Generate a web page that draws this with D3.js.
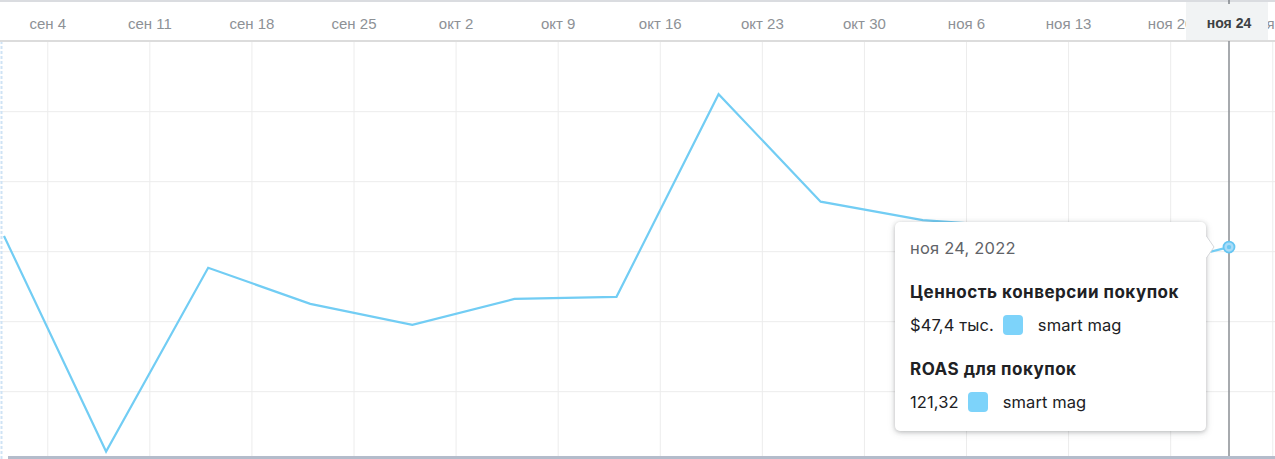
<!DOCTYPE html>
<html>
<head>
<meta charset="utf-8">
<script src="https://cdn.jsdelivr.net/npm/d3@7"></script>
<style>
  html, body { margin: 0; padding: 0; background: #fff; }
  body { width: 1275px; height: 459px; overflow: hidden; position: relative; font-family: "Liberation Sans", Arial, sans-serif; }
  #tip {
    position: absolute; background: #fff; border-radius: 5px;
    box-shadow: 0 1px 4px rgba(60,64,67,0.3), 0 2px 8px rgba(60,64,67,0.12);
    box-sizing: border-box; padding: 0 15px; color: #202124;
    font-family: Inter, Roboto, sans-serif;
  }
  #tip div { line-height: 20px; white-space: nowrap; }
  #tip .date { color: #5f6368; font-size: 16.5px; letter-spacing: 0.2px; margin-top: 16px; }
  #tip .metric { font-weight: 700; font-size: 17px; letter-spacing: 0.5px; margin-top: 24px; }
  #tip .row { font-size: 16.5px; letter-spacing: 0.1px; margin-top: 13px; display: flex; align-items: center; }
  #tip .sw { width: 20px; height: 20px; border-radius: 4px; background: #7dd3fa; margin: 0 15px 0 9px; }
</style>
</head>
<body>
<div id="chart"></div>
<script>
// weekly ROAS (line)
const dates = ["2022-09-01","2022-09-08","2022-09-15","2022-09-22","2022-09-29","2022-10-06",
  "2022-10-13","2022-10-20","2022-10-27","2022-11-03","2022-11-10","2022-11-17","2022-11-24"];
const roas = [124.5, 62.9, 115.4, 105.1, 99.1, 106.5, 107.1, 165.0, 134.3, 129.0, 127.0, 114.0, 121.32];
const yTicks = [80, 100, 120, 140, 160, 180];
const seriesName = "smart mag";
const tipConvValue = "$47,4 тыс.";
const tipRoas = "121,32";

const width = 1275, height = 459;
const parse = d3.timeParse("%Y-%m-%d");
const data = dates.map((d, i) => ({ date: parse(d), v: roas[i] }));

const ru = d3.timeFormatLocale({
  dateTime: "%A, %e %B %Y г. %X", date: "%d.%m.%Y", time: "%H:%M:%S", periods: ["AM", "PM"],
  days: ["воскресенье","понедельник","вторник","среда","четверг","пятница","суббота"],
  shortDays: ["вс","пн","вт","ср","чт","пт","сб"],
  months: ["января","февраля","марта","апреля","мая","июня","июля","августа","сентября","октября","ноября","декабря"],
  shortMonths: ["янв","фев","мар","апр","май","июн","июл","авг","сен","окт","ноя","дек"]
});
const fmtTick = ru.format("%b %-d");
const fmtTip = ru.format("%b %-d, %Y");

const x = d3.scaleTime()
  .domain([data[0].date, data[data.length - 1].date])
  .range([4, 1229]);
const y = d3.scaleLinear().domain([60, 180]).range([461.7, 41.7]);

const svg = d3.select("#chart").append("svg")
  .attr("width", width).attr("height", height)
  .style("display", "block");

const headerH = 41;
const sundays = d3.timeSunday.range(d3.timeDay.offset(x.domain()[0], -1), x.invert(width + 10));

// grid
svg.append("g").selectAll("line").data(sundays).join("line")
  .attr("x1", d => x(d)).attr("x2", d => x(d))
  .attr("y1", headerH).attr("y2", height)
  .attr("stroke", "#ececec").attr("stroke-width", 1);
svg.append("g").selectAll("line").data(yTicks.slice(0, -1)).join("line")
  .attr("x1", 0).attr("x2", width)
  .attr("y1", d => y(d)).attr("y2", d => y(d))
  .attr("stroke", "#ececec").attr("stroke-width", 1);

// left dashed edge
svg.append("line").attr("x1", 1.5).attr("x2", 1.5).attr("y1", headerH).attr("y2", height)
  .attr("stroke", "#cfe3f5").attr("stroke-width", 2).attr("stroke-dasharray", "3,2");

// header
svg.append("rect").attr("x", 0).attr("y", 0).attr("width", width).attr("height", headerH).attr("fill", "#fff");
svg.append("line").attr("x1", 0).attr("x2", width).attr("y1", 1).attr("y2", 1)
  .attr("stroke", "#dadce0").attr("stroke-width", 2);
svg.append("line").attr("x1", 0).attr("x2", width).attr("y1", headerH).attr("y2", headerH)
  .attr("stroke", "#dcdcdc").attr("stroke-width", 2);

svg.append("g").selectAll("text").data(sundays).join("text")
  .attr("x", d => x(d)).attr("y", 29)
  .attr("text-anchor", "middle")
  .attr("font-size", 15).attr("fill", "#8d9196")
  .text(d => fmtTick(d));

const last = data[data.length - 1];
const lx = x(last.date);
svg.append("rect").attr("x", lx - 43).attr("y", 2).attr("width", 82).attr("height", headerH - 3)
  .attr("fill", "#f1f3f4");
svg.append("text").attr("x", lx).attr("y", 28).attr("text-anchor", "middle")
  .attr("font-size", 14).attr("font-weight", 700).attr("fill", "#3c4043")
  .text(fmtTick(last.date));
svg.append("line").attr("x1", lx).attr("x2", lx).attr("y1", 0).attr("y2", 4)
  .attr("stroke", "#80868b").attr("stroke-width", 1.5);

// hover line
svg.append("line").attr("x1", lx).attr("x2", lx).attr("y1", headerH).attr("y2", height)
  .attr("stroke", "#8a8e93").attr("stroke-width", 1.5);

// bottom border
svg.append("line").attr("x1", 8).attr("x2", width).attr("y1", 457.5).attr("y2", 457.5)
  .attr("stroke", "#b4bccb").attr("stroke-width", 3);

// line
const line = d3.line().x(d => x(d.date)).y(d => y(d.v));
svg.append("path").datum(data)
  .attr("d", line).attr("fill", "none")
  .attr("stroke", "#72cdf4").attr("stroke-width", 2.2)
  .attr("stroke-linejoin", "miter");

svg.append("circle").attr("cx", lx).attr("cy", y(last.v)).attr("r", 5.5)
  .attr("fill", "#a9dcf8").attr("stroke", "#66c6f2").attr("stroke-width", 1.8);
svg.append("circle").attr("cx", lx).attr("cy", y(last.v)).attr("r", 2.2).attr("fill", "#6cc9f3");

// tooltip
const tip = d3.select("body").append("div").attr("id", "tip")
  .style("left", "895px").style("top", "222px")
  .style("width", "311px").style("height", "209px");
tip.append("div").attr("class", "date").text(fmtTip(last.date));
tip.append("div").attr("class", "metric").text("Ценность конверсии покупок");
const r1 = tip.append("div").attr("class", "row");
r1.append("span").text(tipConvValue);
r1.append("span").attr("class", "sw");
r1.append("span").text(seriesName);
tip.append("div").attr("class", "metric").text("ROAS для покупок");
const r2 = tip.append("div").attr("class", "row");
r2.append("span").text(tipRoas);
r2.append("span").attr("class", "sw");
r2.append("span").text(seriesName);

// pointer arrow of the tooltip
const arrow = d3.select("body").append("svg")
  .style("position", "absolute").style("left", "1200px").style("top", "230px")
  .attr("width", 20).attr("height", 36);
arrow.append("path").attr("d", "M5,4 L14,17 L5,30")
  .attr("fill", "#fff").attr("stroke", "#d6d8db").attr("stroke-width", 1);
arrow.append("rect").attr("x", 0).attr("y", 0).attr("width", 6).attr("height", 36).attr("fill", "#fff");
</script>
</body>
</html>
